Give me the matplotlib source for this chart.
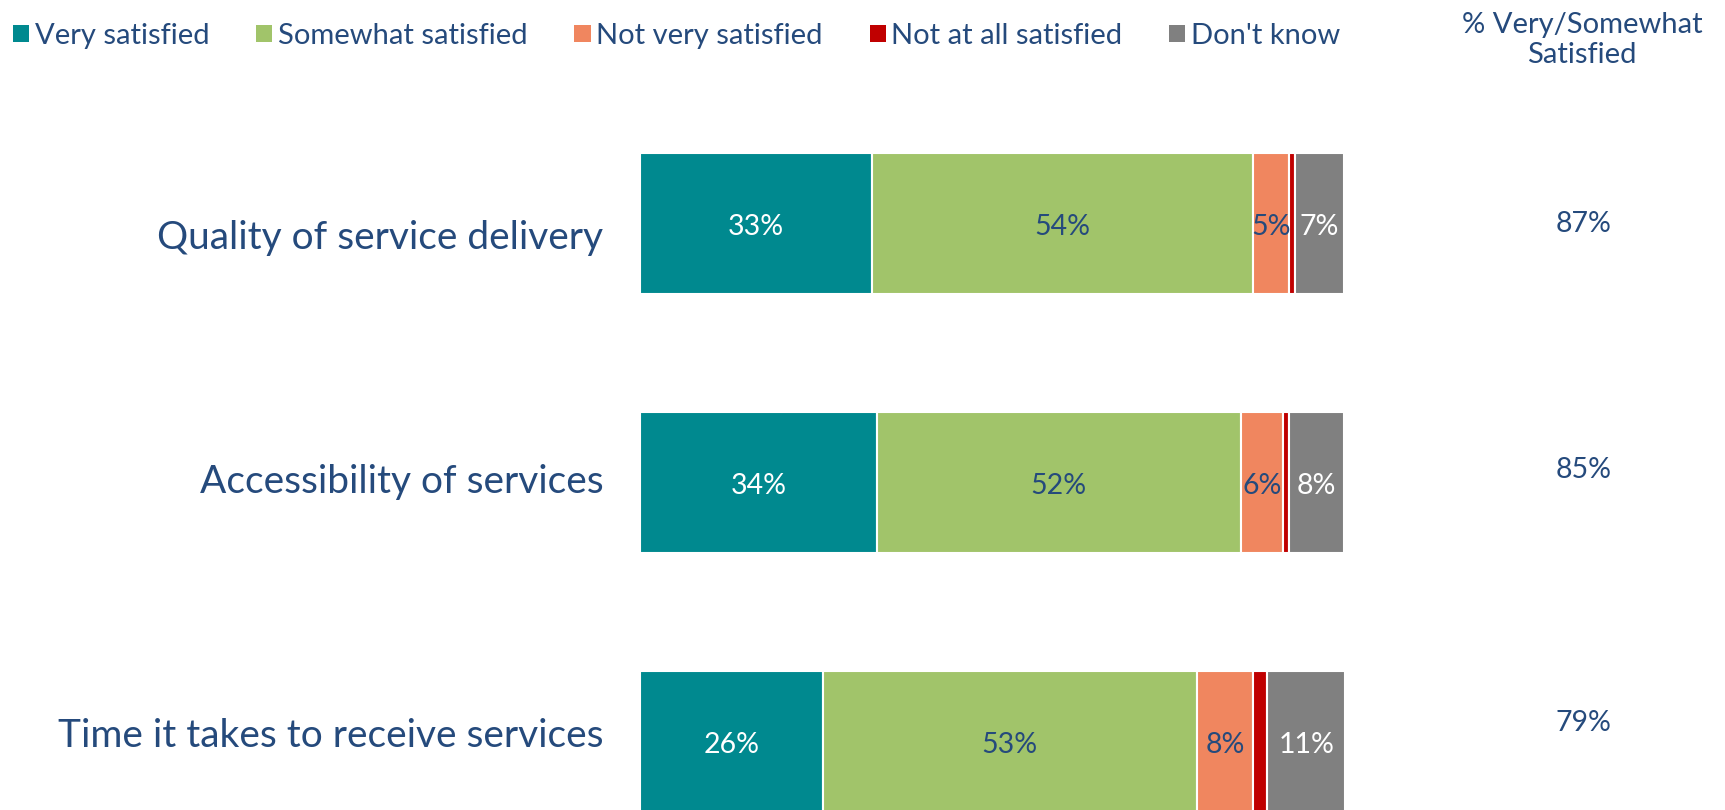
import matplotlib.pyplot as plt
from matplotlib.patches import Patch
import numpy as np

plt.rcParams['font.family'] = ['Lato', 'DejaVu Sans']

# data
categories = ["Quality of service delivery", "Accessibility of services",
              "Time it takes to receive services"]
series = ["Very satisfied", "Somewhat satisfied", "Not very satisfied",
          "Not at all satisfied", "Don't know"]
very_satisfied = [32.9, 33.6, 25.9]
somewhat_satisfied = [54.1, 51.6, 53.1]
not_very_satisfied = [5.0, 6.0, 8.0]
not_at_all_satisfied = [0.9, 0.8, 2.0]
dont_know = [6.9, 7.8, 11.0]
pct_satisfied = [87, 85, 79]

colors = ['#00898F', '#A1C46A', '#F0865F', '#C00000', '#808080']
label_colors = ['white', '#254A7C', '#254A7C', None, 'white']
text_color = '#254A7C'

# small vertical nudges of the side texts (layout only)
cat_nudge = [0.055, 0.0, -0.02]
pct_nudge = [0.0, -0.05, -0.07]

values = [very_satisfied, somewhat_satisfied, not_very_satisfied,
          not_at_all_satisfied, dont_know]

fig = plt.figure(figsize=(17.25, 8.1), dpi=100)
ax = fig.add_axes([640 / 1725, 0.0, 705 / 1725, 1.0])

y = np.arange(len(categories))
left = np.zeros(len(categories))
for vals, col, lcol in zip(values, colors, label_colors):
    bars = ax.barh(y, vals, left=left, height=0.545, color=col,
                   edgecolor='white', linewidth=1.5)
    if lcol is not None:
        for b, v in zip(bars, vals):
            ax.text(b.get_x() + b.get_width() / 2,
                    b.get_y() + b.get_height() / 2 + 0.013,
                    f"{round(v)}%", ha='center', va='center',
                    color=lcol, fontsize=20.5)
    left += np.array(vals)

ax.set_xlim(0, 100)
ax.set_ylim(2.266, -0.865)
ax.axis('off')

# category labels on the left
for yi, cat, dy in zip(y, categories, cat_nudge):
    ax.text(-5.2, yi + dy, cat, ha='right', va='center', color=text_color,
            fontsize=28, clip_on=False)

# right-hand summary column
for yi, p, dy in zip(y, pct_satisfied, pct_nudge):
    ax.text(133.8, yi + dy, f"{p}%", ha='center', va='center',
            color=text_color, fontsize=20.5, clip_on=False)
fig.text(1582 / 1725, 1 - 40 / 810, "% Very/Somewhat\nSatisfied", ha='center',
         va='center', color=text_color, fontsize=21, linespacing=1.2)

handles = [Patch(facecolor=c, edgecolor='none') for c in colors]
fig.legend(handles, series, loc='center left', bbox_to_anchor=(0.0, 1 - 36 / 810),
           ncol=5, frameon=False, fontsize=21, labelcolor=text_color,
           handlelength=0.55, handleheight=0.55, handletextpad=0.2,
           columnspacing=1.6, borderaxespad=0.05)

fig.savefig('out.png', dpi=100)
